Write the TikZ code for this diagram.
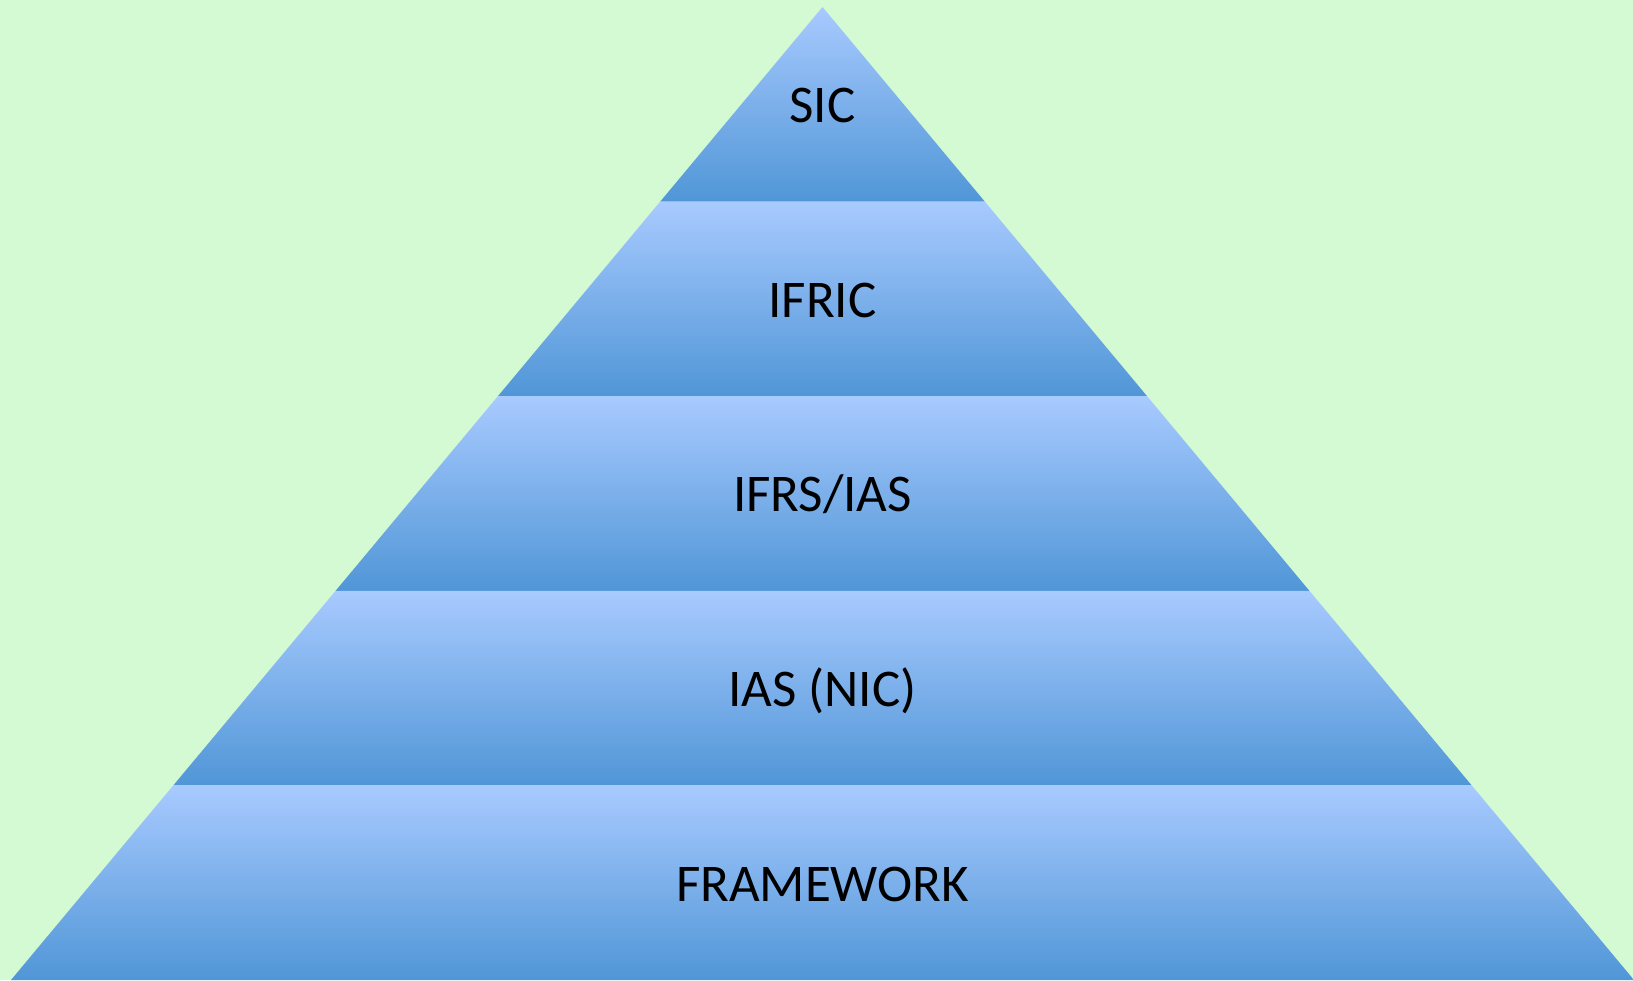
\documentclass[tikz,border=0pt]{standalone}
\usepackage{fontspec}
\setmainfont{Carlito}
\usetikzlibrary{positioning}
\definecolor{bgGreen}{RGB}{211,250,211}
\definecolor{tierTop}{RGB}{168,202,255}
\definecolor{tierBottom}{RGB}{80,150,215}
\tikzset{%
	tier/.style     = {top color=tierTop, bottom color=tierBottom, draw=none}, % one layer
	tiertext/.style = {anchor=base, text=black, font=\fontsize{53}{60}\selectfont},
}
\begin{document}
\begin{tikzpicture}[x=1pt,y=-1pt]
	\useasboundingbox (0,0) rectangle (1633,980);
	\fill[bgGreen] (0,0) rectangle (1633,980);
	
	% layers, apex at top
	\foreach \i in {0,...,4} {
		\shade[tier] ({822.5-162.3*\i},{7+194.6*\i}) -- ({822.5+162.3*\i},{7+194.6*\i})
			-- ({822.5+162.3*(\i+1)},{7+194.6*(\i+1)}) -- ({822.5-162.3*(\i+1)},{7+194.6*(\i+1)}) -- cycle;
	}
	
	\node[tiertext] (sic) at (822.5,122) {SIC};
	\node[tiertext] (ifric) at (822.5,317) {IFRIC};
	\node[tiertext] (ifrs) at (822.5,511) {IFRS/IAS};
	\node[tiertext] (ias) at (822.5,706) {IAS (NIC)};
	\node[tiertext] (framework) at (822.5,901) {FRAMEWORK};
\end{tikzpicture}
\end{document}
